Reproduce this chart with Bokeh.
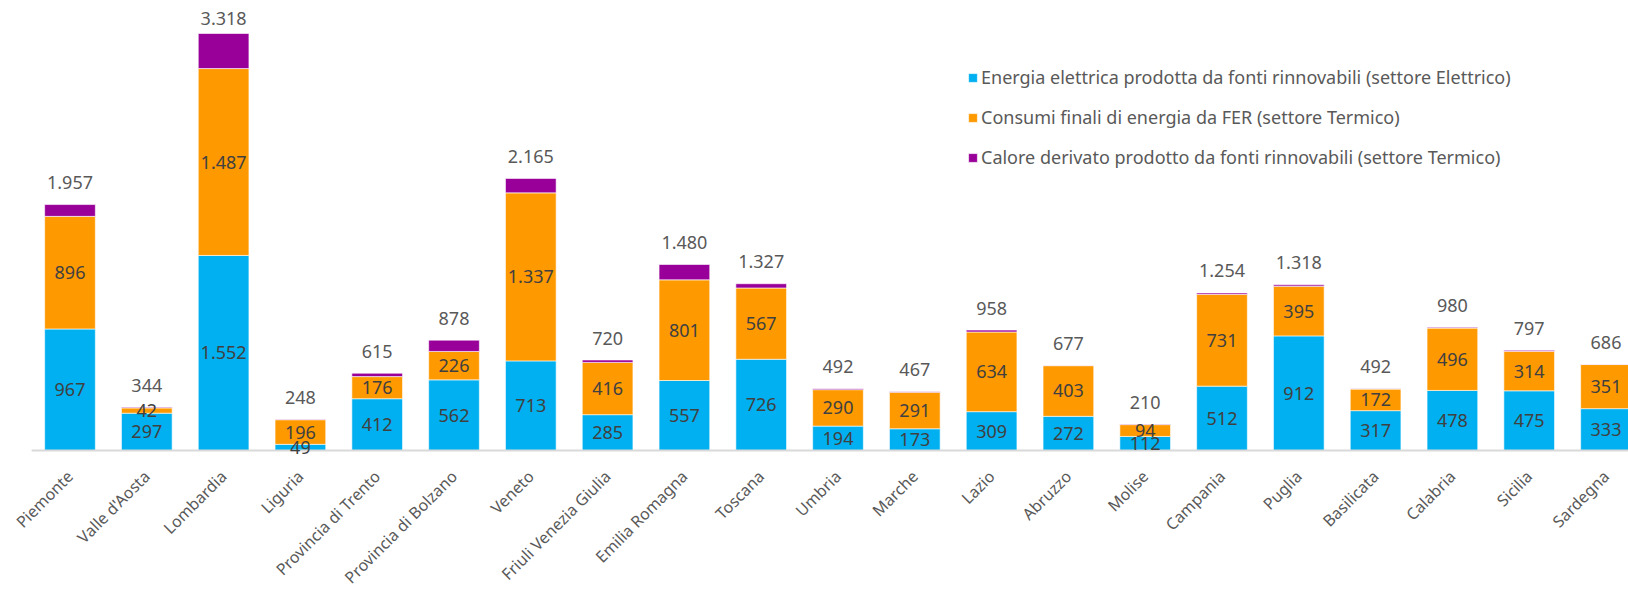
import numpy as np
from math import pi
from bokeh.plotting import figure
from bokeh.models import ColumnDataSource, Range1d, Legend, LegendItem
from bokeh.core.properties import value
from bokeh.embed import file_html
from bokeh.resources import INLINE

regioni = ["Piemonte", "Valle d'Aosta", "Lombardia", "Liguria", "Provincia di Trento",
           "Provincia di Bolzano", "Veneto", "Friuli Venezia Giulia", "Emilia Romagna",
           "Toscana", "Umbria", "Marche", "Lazio", "Abruzzo", "Molise", "Campania",
           "Puglia", "Basilicata", "Calabria", "Sicilia", "Sardegna"]
elettrico = [967, 297, 1552, 49, 412, 562, 713, 285, 557, 726, 194, 173, 309, 272, 112,
             512, 912, 317, 478, 475, 333]
termico = [896, 42, 1487, 196, 176, 226, 1337, 416, 801, 567, 290, 291, 634, 403, 94,
           731, 395, 172, 496, 314, 351]
calore = [94, 5, 279, 3, 27, 90, 115, 19, 122, 34, 8, 3, 15, 2, 4, 11, 11, 3, 6, 8, 2]
totale = [1957, 344, 3318, 248, 615, 878, 2165, 720, 1480, 1327, 492, 467, 958, 677, 210,
          1254, 1318, 492, 980, 797, 686]

serie_nomi = ["Energia elettrica prodotta da fonti rinnovabili (settore Elettrico)",
              "Consumi finali di energia da FER (settore Termico)",
              "Calore derivato prodotto da fonti rinnovabili (settore Termico)"]
colori = ["#00B0F0", "#FF9900", "#990099"]

FONT = "Noto Sans"

def fmt(v):
    return f"{int(v):,}".replace(",", ".")

x = np.arange(len(regioni))
e = np.array(elettrico, dtype=float)
t = np.array(termico, dtype=float)
c = np.array(calore, dtype=float)
tot = np.array(totale, dtype=float)

W, H = 1628, 591
px_per_unit = 417.0 / 3318.0          # vertical scale
y_end = 450.0 / px_per_unit           # baseline sits 450 px below the top
y_start = y_end - H / px_per_unit
cat_px = 76.8                         # width of one category
x_start = -69.5 / cat_px
x_end = x_start + W / cat_px

src = ColumnDataSource(dict(
    x=x, e0=np.zeros_like(e), e1=e, t0=e, t1=e + t, c0=e + t, c1=e + t + c,
    ey=e / 2, ty=e + t / 2,
    el=[fmt(v) for v in e], tl=[fmt(v) for v in t],
    toty=np.minimum(tot + 22 / px_per_unit, tot.max() + 15 / px_per_unit),
    totl=[fmt(v) for v in tot],
    cy=np.full(len(regioni), -23 / px_per_unit),
    nomi=regioni,
))

p = figure(width=W, height=H, output_backend="svg", toolbar_location=None,
           x_range=Range1d(x_start, x_end), y_range=Range1d(y_start, y_end),
           x_axis_location=None, y_axis_location=None,
           min_border_left=0, min_border_right=0, min_border_top=0, min_border_bottom=0)
p.outline_line_color = None
p.xgrid.visible = False
p.ygrid.visible = False

bw = 0.66
r1 = p.vbar(x="x", bottom="e0", top="e1", width=bw, source=src, fill_color=colori[0],
            line_color="white", line_width=0.6)
r2 = p.vbar(x="x", bottom="t0", top="t1", width=bw, source=src, fill_color=colori[1],
            line_color="white", line_width=0.6)
r3 = p.vbar(x="x", bottom="c0", top="c1", width=bw, source=src, fill_color=colori[2],
            line_color="white", line_width=0.6)

p.segment(x0=[-0.5], x1=[len(regioni) - 0.5], y0=[0], y1=[0], line_color="#D9D9D9", line_width=2)

for ycol, lcol in (("ey", "el"), ("ty", "tl")):
    p.text(x="x", y=ycol, text=lcol, source=src, text_align="center", text_baseline="middle",
           text_font=value(FONT), text_font_size="18px", text_color="#404040")
p.text(x="x", y="toty", text="totl", source=src, text_align="center", text_baseline="middle",
       text_font=value(FONT), text_font_size="18px", text_color="#595959")

# category labels (x axis)
p.text(x="x", y="cy", text="nomi", source=src, angle=pi / 4, text_align="right",
       text_baseline="middle", text_font=value(FONT), text_font_size="16px",
       text_color="#595959")

legend = Legend(items=[LegendItem(label=serie_nomi[i], renderers=[r]) for i, r in enumerate([r1, r2, r3])],
                location=(967, 422), orientation="vertical")
legend.padding = 0
legend.margin = 0
legend.spacing = 16
legend.glyph_width = 11
legend.glyph_height = 11
legend.label_height = 20
legend.label_standoff = 3
legend.label_text_font = FONT
legend.label_text_font_size = "18px"
legend.label_text_color = "#595959"
legend.border_line_color = None
legend.background_fill_alpha = 0
p.add_layout(legend)

open("out.html", "w").write(file_html(p, INLINE))
